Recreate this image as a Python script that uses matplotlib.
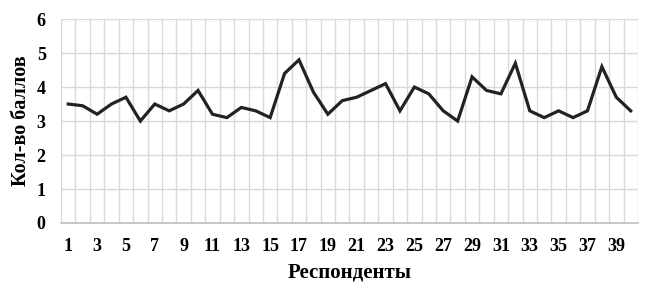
import matplotlib
matplotlib.use("Agg")
import matplotlib.pyplot as plt

respondents = list(range(1, 41))
scores = [3.5, 3.45, 3.2, 3.5, 3.7, 3.0, 3.5, 3.3, 3.5, 3.9,
          3.2, 3.1, 3.4, 3.3, 3.1, 4.4, 4.8, 3.85, 3.2, 3.6,
          3.7, 3.9, 4.1, 3.3, 4.0, 3.8, 3.3, 3.0, 4.3, 3.9,
          3.8, 4.7, 3.3, 3.1, 3.3, 3.1, 3.3, 4.6, 3.7, 3.3]
xtick_labels = [str(i) for i in range(1, 40, 2)]
ytick_vals = [0, 1, 2, 3, 4, 5, 6]
xlabel = "Респонденты"
ylabel = "Кол-во баллов"

plt.rcParams['font.family'] = ['Liberation Serif', 'DejaVu Serif']

fig = plt.figure(figsize=(6.47, 2.89), dpi=100)
ax = fig.add_axes([0.0943, 0.2284, 0.8917, 0.7056])

ax.plot(respondents, scores, color='#222222', linewidth=2.3, solid_joinstyle='miter')

ax.set_xlim(0.5, 40.5)
ax.set_ylim(0, 6)
ax.set_yticks(ytick_vals)
ax.set_yticklabels([str(v) for v in ytick_vals], fontsize=13, fontweight='bold')
ax.set_xticks(list(range(1, 40, 2)))
ax.set_xticklabels(xtick_labels, fontsize=13, fontweight='bold')
ax.set_xticks([k + 0.5 for k in range(0, 41)], minor=True)
ax.tick_params(axis='both', which='both', length=0)
ax.tick_params(axis='y', pad=11)
ax.tick_params(axis='x', pad=11)

ax.grid(which='minor', axis='x', color='#d9d9d9', linewidth=1.0)
ax.grid(which='major', axis='y', color='#d9d9d9', linewidth=1.0)
ax.grid(which='major', axis='x', visible=False)
ax.set_axisbelow(True)

for s in ['top', 'right', 'left']:
    ax.spines[s].set_visible(False)
ax.spines['bottom'].set_color('#bfbfbf')
ax.spines['bottom'].set_linewidth(1.2)

ax.set_xlabel(xlabel, fontsize=15, fontweight='bold', labelpad=5)
ax.set_ylabel(ylabel, fontsize=14.5, fontweight='bold', labelpad=4)

fig.savefig("out.png", dpi=100)
